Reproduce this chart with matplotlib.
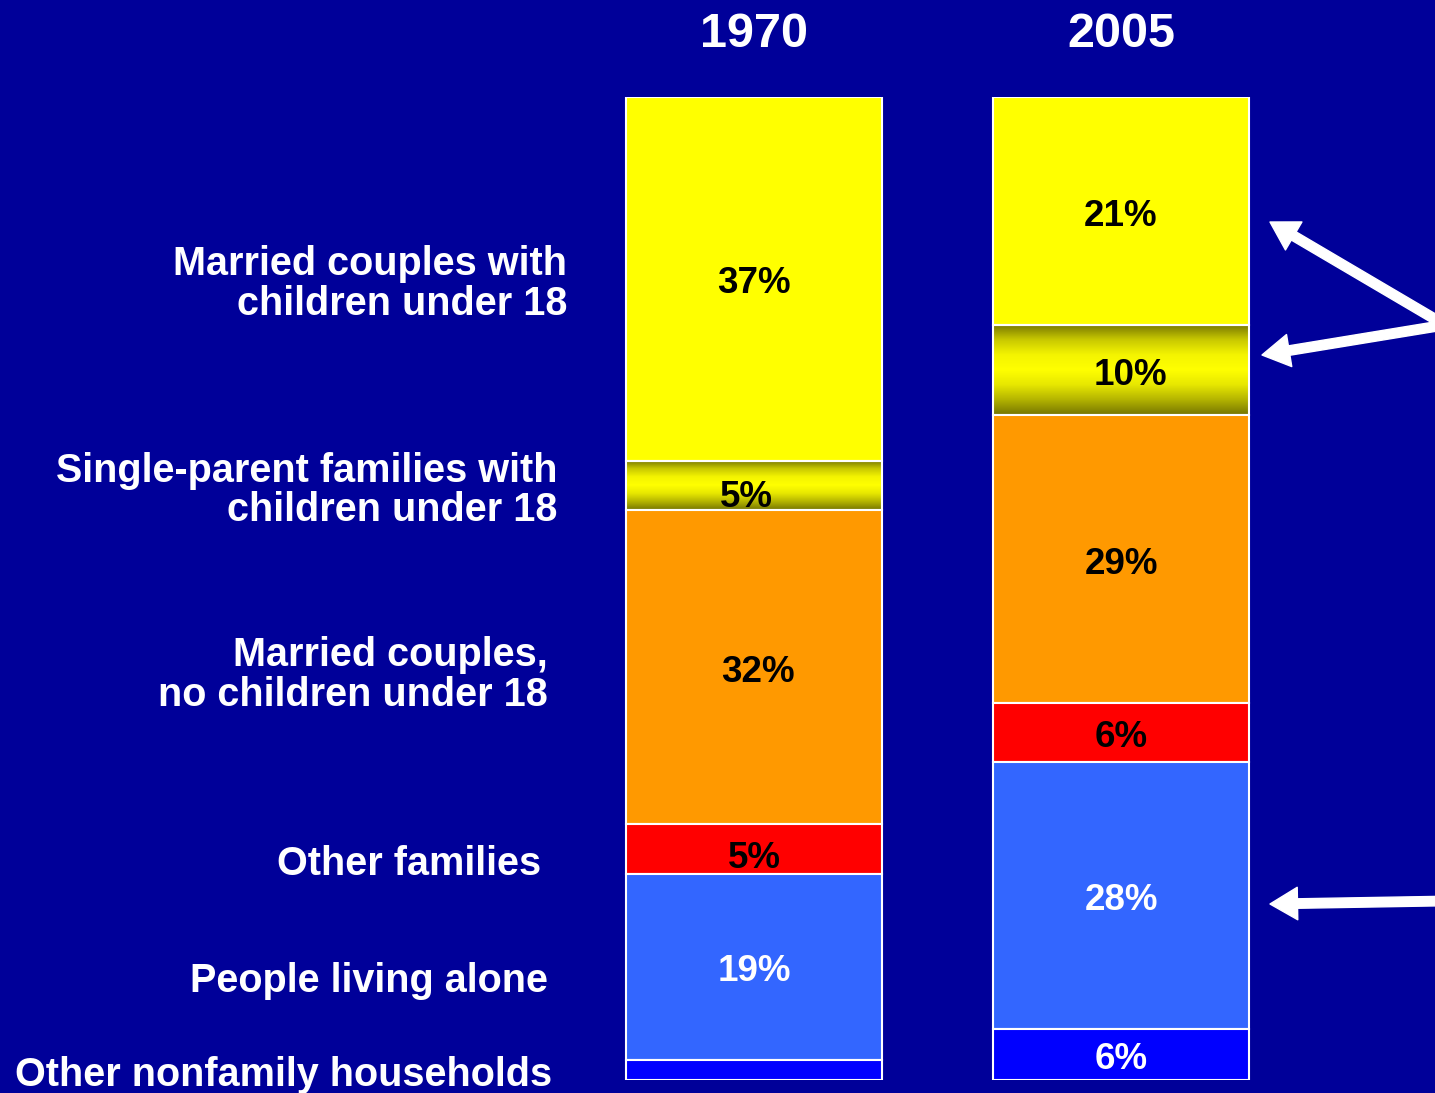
import numpy as np
import matplotlib
matplotlib.use("Agg")
import matplotlib.pyplot as plt
from matplotlib.colors import LinearSegmentedColormap
from matplotlib.transforms import offset_copy

plt.rcParams['font.family'] = ['Liberation Sans', 'DejaVu Sans']

years = ['1970', '2005']
categories = [
    'Married couples with\nchildren under 18',
    'Single-parent families with\nchildren under 18',
    'Married couples,\nno children under 18',
    'Other families',
    'People living alone',
    'Other nonfamily households',
]
# shares of households, top segment first (heights)
share_1970 = [37, 5, 32, 5, 19, 2]
share_2005 = [23.2, 9.2, 29.2, 6.1, 27.1, 5.2]
labels_1970 = ['37%', '5%', '32%', '5%', '19%', '']
labels_2005 = ['21%', '10%', '29%', '6%', '28%', '6%']

seg_colors = ['#FFFF00', None, '#FF9900', '#FF0000', '#3366FF', '#0000FF']
txt_colors = ['black', 'black', 'black', 'black', 'white', 'white']

BG = '#000099'
W, H = 1435, 1093
PX = 367.0  # pixels per x unit (distance between bars)


def xpx(p):
    return (p - 754) / PX


def ypx(p):
    return 100 - (p - 97) / 983 * 100


fig = plt.figure(figsize=(W / 100, H / 100), dpi=100, facecolor=BG)
ax = fig.add_axes([0, 13 / H, 1, 983 / H])
ax.set_facecolor(BG)
ax.axis('off')

# text sits a few pixels lower than a plain va='center'
tdown = offset_copy(ax.transData, fig=fig, x=0, y=-5, units='dots')

width = 256 / PX
grad = LinearSegmentedColormap.from_list(
    'olive', ['#767600', '#c8c800', '#f4f400', '#ffff00', '#e8e800', '#b4b400', '#767600'])

# small label shifts in pixels (dx, dy), per bar and segment
label_shift = [
    [(0, 0), (-8, -7), (4, 0), (0, -5), (0, 0), (0, 0)],
    [(0, 0), (9, 0), (0, 0), (0, 0), (0, 0), (0, 0)],
]

centers_1970 = []
for i, (vals, labs) in enumerate([(share_1970, labels_1970), (share_2005, labels_2005)]):
    tops = 100 - np.concatenate([[0], np.cumsum(vals)[:-1]])
    for j, v in enumerate(vals):
        bottom = tops[j] - v
        if seg_colors[j] is None:
            ax.imshow(np.linspace(0, 1, 128).reshape(-1, 1), cmap=grad, aspect='auto',
                      extent=(i - width / 2, i + width / 2, bottom, tops[j]), zorder=1)
            ax.bar(i, v, width, bottom=bottom, facecolor='none',
                   edgecolor='white', linewidth=1.5, zorder=2)
        else:
            ax.bar(i, v, width, bottom=bottom, color=seg_colors[j],
                   edgecolor='white', linewidth=1.5, zorder=2)
        if i == 0:
            centers_1970.append(bottom + v / 2)
        if labs[j]:
            dx, dy = label_shift[i][j]
            tr = offset_copy(tdown, fig=fig, x=dx, y=dy, units='dots')
            ax.text(i, bottom + v / 2, labs[j], ha='center', va='center', transform=tr,
                    fontsize=26.5, fontweight='bold', color=txt_colors[j], zorder=3)
    ax.text(i, ypx(30), years[i], ha='center', va='center', fontsize=35, transform=tdown,
            fontweight='bold', color='white', clip_on=False)

# category labels on the left, aligned with the 1970 segments
label_right = [567, 557, 548, 541, 548, 552]
label_nudge = [0, 0, -0.3, -1.0, -0.9, 0]
for j, cat in enumerate(categories):
    ax.text(xpx(label_right[j]), centers_1970[j] + label_nudge[j], cat, transform=tdown,
            ha='right', va='center', multialignment='right', linespacing=1.05,
            fontsize=28.5, fontweight='bold', color='white', clip_on=False)

ax.set_xlim(xpx(0), xpx(W))
ax.set_ylim(0, 100)

# white arrows from the right edge
arrows = [((1445, 325), (1270, 222)), ((1445, 325), (1262, 355)), ((1445, 901), (1270, 904))]
for (x0, y0), (x1, y1) in arrows:
    ax.annotate('', xy=(xpx(x1), ypx(y1)), xytext=(xpx(x0), ypx(y0)),
                arrowprops=dict(arrowstyle='simple,head_length=1.1,head_width=1.3,tail_width=0.38',
                                mutation_scale=18, color='white', shrinkA=0, shrinkB=0),
                annotation_clip=False)

fig.savefig('out.png', dpi=100, facecolor=BG)
